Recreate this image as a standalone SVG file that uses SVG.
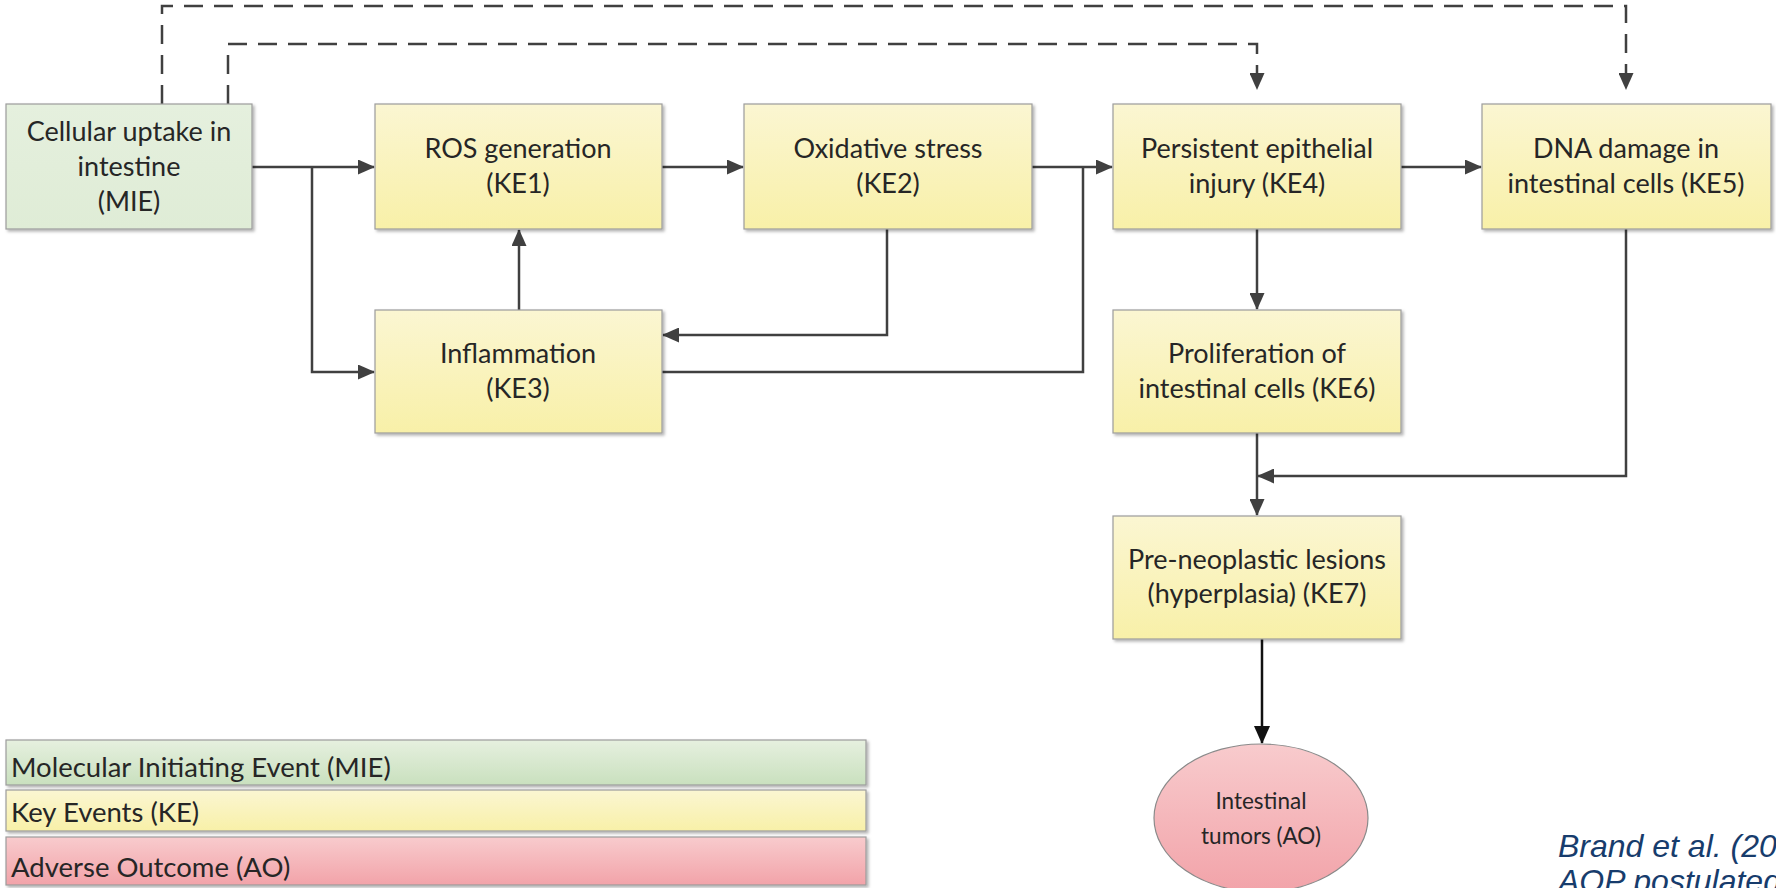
<svg xmlns="http://www.w3.org/2000/svg" width="1776" height="888" viewBox="0 0 1776 888">
<defs>
<linearGradient id="gKE" x1="0" y1="0" x2="0" y2="1"><stop offset="0" stop-color="#fbf6d2"/><stop offset="1" stop-color="#f8f0a8"/></linearGradient>
<linearGradient id="gMIE" x1="0" y1="0" x2="0" y2="1"><stop offset="0" stop-color="#e5f0de"/><stop offset="1" stop-color="#dfecd6"/></linearGradient>
<linearGradient id="gLMIE" x1="0" y1="0" x2="0" y2="1"><stop offset="0" stop-color="#e6f0df"/><stop offset="1" stop-color="#c9e0be"/></linearGradient>
<linearGradient id="gAO" x1="0" y1="0" x2="0" y2="1"><stop offset="0" stop-color="#f8cbcd"/><stop offset="1" stop-color="#f2a3a9"/></linearGradient>
<filter id="sh" x="-5%" y="-5%" width="115%" height="120%"><feDropShadow dx="2" dy="2" stdDeviation="1.5" flood-color="#000" flood-opacity="0.3"/></filter>
<marker id="ah" markerWidth="17" markerHeight="15" refX="16" refY="7.5" orient="auto" markerUnits="userSpaceOnUse"><path d="M0,0 L17,7.5 L0,15 Z" fill="#404040"/></marker>
<marker id="ahk" markerWidth="18" markerHeight="16" refX="17" refY="8" orient="auto" markerUnits="userSpaceOnUse"><path d="M0,0 L18,8 L0,16 Z" fill="#111"/></marker>
</defs>
<style>
.box{stroke:#9c9c9c;stroke-width:1.2;filter:url(#sh)}
.ke{fill:url(#gKE)}
.mie{fill:url(#gMIE)}
.t{font-family:Lato,"Liberation Sans",sans-serif;font-size:27px;fill:#262626;text-anchor:middle}
.s{font-size:22.5px}
.lt{font-family:Lato,"Liberation Sans",sans-serif;font-size:27.5px;fill:#262626}
.c{fill:none;stroke:#404040;stroke-width:2.5}
.d{fill:none;stroke:#404040;stroke-width:2.5;stroke-dasharray:19 11}
.cite{font-family:"Liberation Sans",Arial,sans-serif;font-style:italic;font-size:32px;fill:#173c6c}
</style>
<rect width="1776" height="888" fill="#fff"/>

<g id="connectors">
<path class="d" d="M162,104 V6 H1626 V89" marker-end="url(#ah)"/>
<path class="d" d="M228,104 V44 H1257 V89" marker-end="url(#ah)"/>
<path class="c" d="M252,167 H374" marker-end="url(#ah)"/>
<path class="c" d="M312,167 V372 H374" marker-end="url(#ah)"/>
<path class="c" d="M519,310 V230" marker-end="url(#ah)"/>
<path class="c" d="M662,167 H743" marker-end="url(#ah)"/>
<path class="c" d="M887,229 V335 H663" marker-end="url(#ah)"/>
<path class="c" d="M662,372 H1083 V167"/>
<path class="c" d="M1032,167 H1112" marker-end="url(#ah)"/>
<path class="c" d="M1401,167 H1481" marker-end="url(#ah)"/>
<path class="c" d="M1257,229 V309" marker-end="url(#ah)"/>
<path class="c" d="M1257,433 V515" marker-end="url(#ah)"/>
<path class="c" d="M1626,229 V476 H1258" marker-end="url(#ah)"/>
<path d="M1262,639 V743" fill="none" stroke="#111" stroke-width="2.5" marker-end="url(#ahk)"/>
</g>

<g id="MIE">
<rect class="box mie" x="6" y="104" width="246" height="125"/>
<text class="t" x="129" y="141">Cellular uptake in</text>
<text class="t" x="129" y="176">intestine</text>
<text class="t" x="129" y="211">(MIE)</text>
</g>
<g id="KE1">
<rect class="box ke" x="375" y="104" width="287" height="125"/>
<text class="t" x="518" y="158">ROS generation</text>
<text class="t" x="518" y="193">(KE1)</text>
</g>
<g id="KE2">
<rect class="box ke" x="744" y="104" width="288" height="125"/>
<text class="t" x="888" y="158">Oxidative stress</text>
<text class="t" x="888" y="193">(KE2)</text>
</g>
<g id="KE4">
<rect class="box ke" x="1113" y="104" width="288" height="125"/>
<text class="t" x="1257" y="158">Persistent epithelial</text>
<text class="t" x="1257" y="193">injury (KE4)</text>
</g>
<g id="KE5">
<rect class="box ke" x="1482" y="104" width="289" height="125"/>
<text class="t" x="1626" y="158">DNA damage in</text>
<text class="t" x="1626" y="193">intestinal cells (KE5)</text>
</g>
<g id="KE3">
<rect class="box ke" x="375" y="310" width="287" height="123"/>
<text class="t" x="518" y="363">Inflammation</text>
<text class="t" x="518" y="398">(KE3)</text>
</g>
<g id="KE6">
<rect class="box ke" x="1113" y="310" width="288" height="123"/>
<text class="t" x="1257" y="363">Proliferation of</text>
<text class="t" x="1257" y="398">intestinal cells (KE6)</text>
</g>
<g id="KE7">
<rect class="box ke" x="1113" y="516" width="288" height="123"/>
<text class="t" x="1257" y="569">Pre-neoplastic lesions</text>
<text class="t" x="1257" y="603">(hyperplasia) (KE7)</text>
</g>
<g id="AO">
<ellipse cx="1261" cy="818" rx="107" ry="74" fill="url(#gAO)" stroke="#8a8a8a" stroke-width="1.2"/>
<text class="t s" x="1261" y="809">Intestinal</text>
<text class="t s" x="1261" y="844">tumors (AO)</text>
</g>

<g id="legend">
<rect class="box" x="6" y="740" width="860" height="45" fill="url(#gLMIE)"/>
<text class="lt" x="11" y="777">Molecular Initiating Event (MIE)</text>
<rect class="box ke" x="6" y="790" width="860" height="41"/>
<text class="lt" x="11" y="822">Key Events (KE)</text>
<rect class="box" x="6" y="837" width="860" height="48" fill="url(#gAO)"/>
<text class="lt" x="11" y="877">Adverse Outcome (AO)</text>
</g>

<g id="citation">
<text class="cite" x="1558" y="857">Brand et al. (20</text>
<text class="cite" x="1558" y="892">AOP postulated</text>
</g>
</svg>
